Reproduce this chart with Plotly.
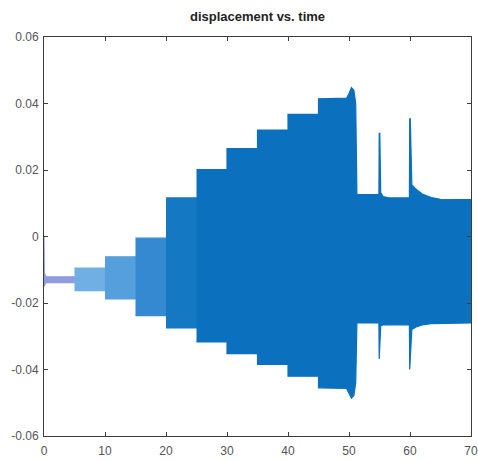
import plotly.graph_objects as go

# Step-wise envelope of the oscillation (time window, lower / upper bound)
step_start = [0, 5, 10, 15, 20, 25, 30, 35, 40]
step_end = [5, 10, 15, 20, 25, 30, 35, 40, 45]
step_lower = [-0.0139, -0.0163, -0.0188, -0.0238, -0.0275, -0.0317, -0.0352, -0.0385, -0.0420]
step_upper = [-0.0121, -0.0095, -0.0061, -0.0005, 0.0116, 0.0201, 0.0264, 0.0320, 0.0367]
step_color = ["#8e9ddf", "#70afe3", "#55a0dc", "#3589d0", "#1478c3",
              "#0b71be", "#0b71be", "#0b71be", "#0b71be"]

# Initial transient at t = 0
head_t = [0.0, 0.05, 0.3]
head_upper = [0.0, -0.0110, -0.0121]
head_lower = [-0.0150, -0.0148, -0.0139]

# Envelope from t = 45 to the end (peak near 50, spikes at 55 and 60, settling)
tail_t = [45.0, 49.6, 50.0, 50.4, 50.8, 51.1, 51.3, 54.9, 54.95, 55.05, 55.2,
          55.6, 56.5, 59.9, 59.95, 60.05, 60.3, 61.0, 62.0, 63.5, 65.0, 70.0]
tail_upper = [0.0414, 0.0416, 0.0430, 0.0448, 0.0440, 0.0400, 0.0126, 0.0126,
              0.0310, 0.0310, 0.0132, 0.0120, 0.0116, 0.0116, 0.0354, 0.0354,
              0.0156, 0.0142, 0.0128, 0.0117, 0.0112, 0.0111]
tail_lower = [-0.0455, -0.0457, -0.0470, -0.0486, -0.0478, -0.0440, -0.0260,
              -0.0260, -0.0368, -0.0368, -0.0268, -0.0266, -0.0265, -0.0265,
              -0.0400, -0.0400, -0.0280, -0.0272, -0.0266, -0.0262, -0.0260, -0.0260]
tail_color = "#0b71be"

x_ticks = [0, 10, 20, 30, 40, 50, 60, 70]
y_ticks = [-0.06, -0.04, -0.02, 0, 0.02, 0.04, 0.06]
y_tick_text = ["-0.06", "-0.04", "-0.02", "0", "0.02", "0.04", "0.06"]

# Group the envelope into colour runs so equal-colour pieces form one polygon
groups = []  # each: [color, t, upper, lower]
groups.append([step_color[0], list(head_t), list(head_upper), list(head_lower)])
for a, b, lo, hi, c in zip(step_start, step_end, step_lower, step_upper, step_color):
    if groups[-1][0] != c:
        groups.append([c, [], [], []])
    g = groups[-1]
    g[1] += [a, b]
    g[2] += [hi, hi]
    g[3] += [lo, lo]
if groups[-1][0] != tail_color:
    groups.append([tail_color, [], [], []])
groups[-1][1] += tail_t
groups[-1][2] += tail_upper
groups[-1][3] += tail_lower


def band(t, upper, lower, color):
    """Filled region between an upper and a lower envelope."""
    xs = list(t) + list(reversed(t))
    ys = list(upper) + list(reversed(lower))
    return go.Scatter(x=xs, y=ys, mode="lines", fill="toself", fillcolor=color,
                      line=dict(color=color, width=1.2), hoverinfo="skip",
                      showlegend=False)


fig = go.Figure()
for color, t, up, lo in groups:
    fig.add_trace(band(t, up, lo, color))

tick_font = dict(family="Liberation Sans, Arial, sans-serif", size=12, color="#555555")
axis_common = dict(showline=True, linecolor="#3c3c3c", linewidth=1, mirror="ticks",
                   ticks="inside", ticklen=4, tickwidth=1, tickcolor="#3c3c3c",
                   showgrid=False, zeroline=False, tickfont=tick_font,
                   automargin=False)

fig.update_layout(
    width=478, height=461,
    margin=dict(l=44, r=7, t=37, b=25, autoexpand=False),
    paper_bgcolor="white", plot_bgcolor="white",
    title=dict(text="<b>displacement vs. time</b>", x=0.5, xref="paper",
               y=1 - 16 / 461, yref="container", yanchor="middle",
               font=dict(family="Liberation Sans, Arial, sans-serif", size=13,
                         color="#222222")),
    xaxis=dict(range=[0, 70], tickvals=x_ticks, ticklabelstandoff=4, **axis_common),
    yaxis=dict(range=[-0.06, 0.06], tickvals=y_ticks, ticktext=y_tick_text,
               ticklabelstandoff=2, **axis_common),
)

fig.write_html("out.html")
